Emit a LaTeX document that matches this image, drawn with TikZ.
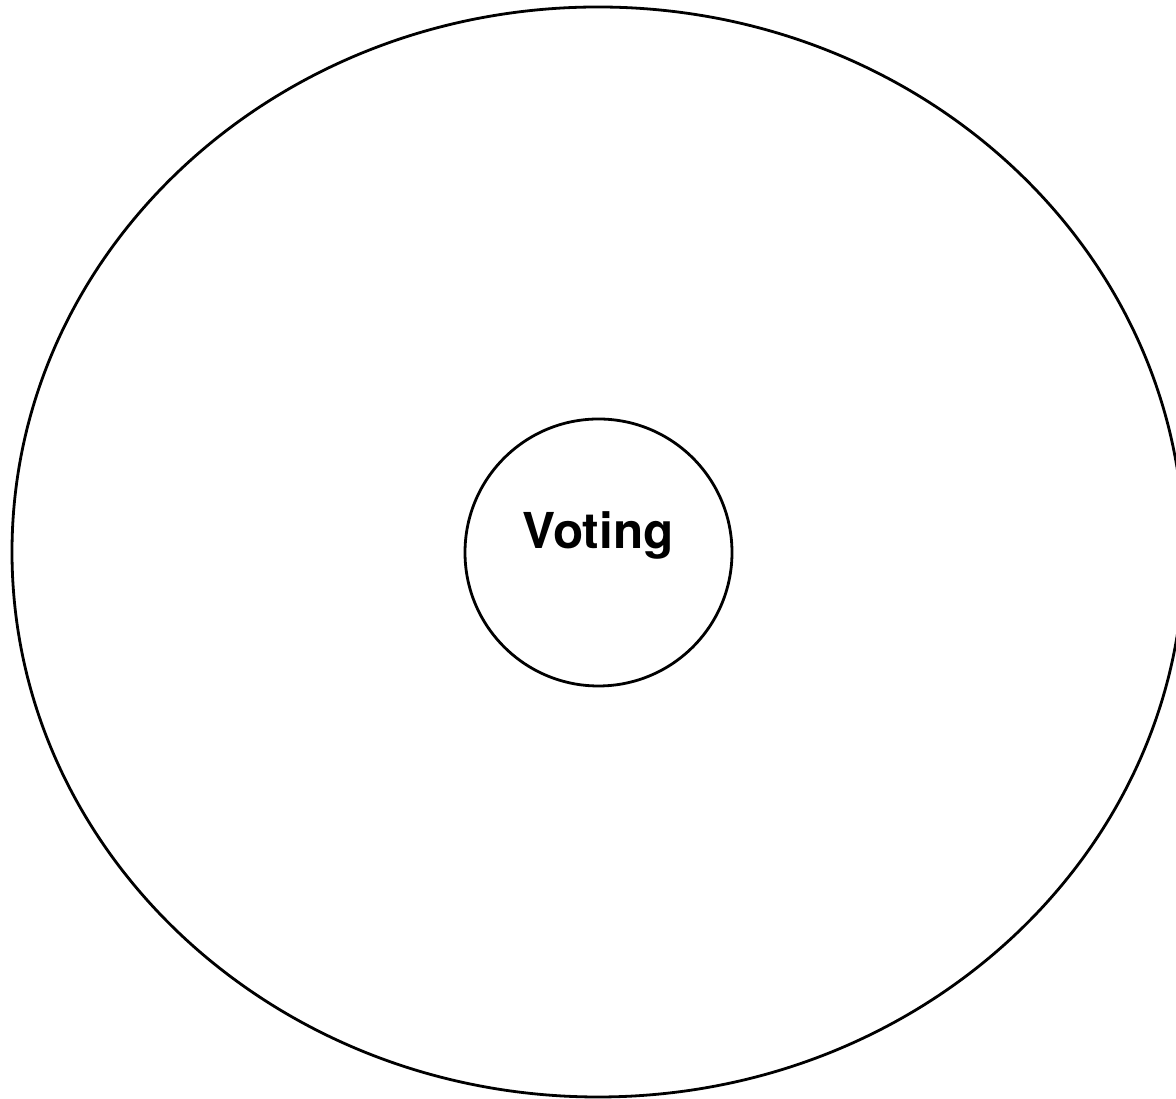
\documentclass[tikz,border=0pt]{standalone}
\usepackage{fontspec}
\setmainfont{TeX Gyre Heros}
\tikzset{
  outline/.style={draw=black, line width=2.8pt},
  label/.style={font=\fontsize{49.5}{59}\selectfont\bfseries, inner sep=0pt}
}
\begin{document}
\begin{tikzpicture}[x=1pt,y=1pt]
\useasboundingbox (0,0) rectangle (1176,1099);
\clip (0,0) rectangle (1176,1099);
\draw[outline] (598,547) ellipse [x radius=586, y radius=545];
\node[outline, circle, minimum size=267pt, inner sep=0pt] (vote) at (598.5,546.5) {};
\node[label, anchor=base] (votetext) at (598,550) {Voting};
\end{tikzpicture}
\end{document}
